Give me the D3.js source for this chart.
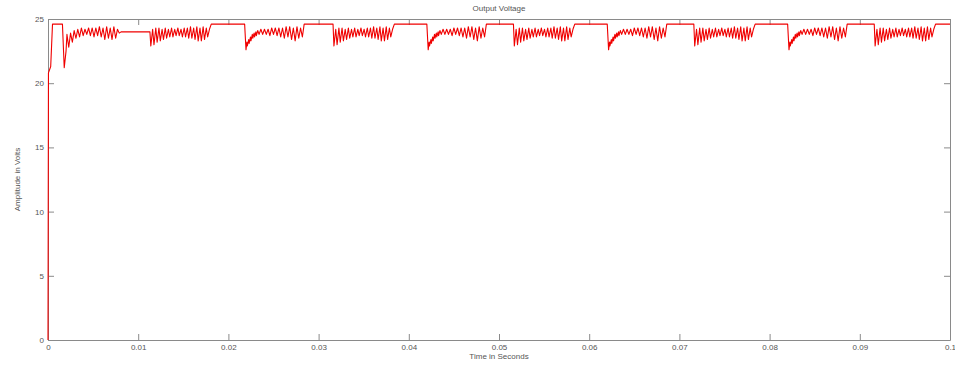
<!DOCTYPE html>
<html>
<head>
<meta charset="utf-8">
<script src="https://cdn.jsdelivr.net/npm/d3@7"></script>
<style>
  body { margin: 0; background: #fff; }
  svg text { font-family: "Liberation Sans", Arial, sans-serif; }
</style>
</head>
<body>
<div id="chart"></div>
<script>
// ---------- data ----------
// start-up transient, [time s, volts]
let startup = [
  [0, 0], [0.00005, 20.8], [0.0003, 21.3], [0.0005, 24.6], [0.0016, 24.6],
  [0.0018, 21.2], [0.0020, 22.5], [0.0021, 23.8], [0.0023, 22.8], [0.0025, 23.9],
  [0.0027, 23.2], [0.0029, 24.1], [0.0031, 23.5], [0.0033, 24.2], [0.0035, 23.6],
  [0.0037, 24.3], [0.0039, 23.7], [0.0041, 24.2], [0.0043, 23.8], [0.0045, 24.3],
  [0.0047, 23.7], [0.0049, 24.3], [0.0051, 23.6], [0.0053, 24.3], [0.0055, 23.7],
  [0.0057, 24.4], [0.0059, 23.6], [0.0061, 24.3], [0.0063, 23.4], [0.0065, 24.4],
  [0.0067, 23.5], [0.0069, 24.3], [0.0071, 23.4], [0.0073, 24.4], [0.0075, 23.5],
  [0.0077, 24.2], [0.0079, 23.9], [0.0081, 24.0]
]

// ripple burst that opens with a dip and recovers, [ms after onset, volts]
let burstA = [
  [0, 24.6], [0.15, 22.6], [0.25, 23.2], [0.3, 22.9], [0.45, 23.4], [0.5, 23.1],
  [0.65, 23.6], [0.7, 23.3], [0.85, 23.8], [0.9, 23.5], [1.05, 23.9], [1.1, 23.6],
  [1.25, 24.0], [1.3, 23.7], [1.45, 24.1], [1.6, 23.8], [1.8, 24.2], [2.0, 23.8],
  [2.2, 24.2], [2.4, 23.8], [2.6, 24.2], [2.8, 23.7], [3.0, 24.3], [3.2, 23.8],
  [3.4, 24.3], [3.6, 23.7], [3.8, 24.3], [4.0, 23.6], [4.2, 24.3], [4.4, 23.5],
  [4.6, 24.4], [4.8, 23.6], [5.0, 24.4], [5.2, 23.4], [5.4, 24.3], [5.6, 23.3],
  [5.8, 24.4], [6.0, 23.5], [6.2, 24.3], [6.4, 23.6], [6.6, 24.6]
]

// ripple burst without the recovery curve, [ms after onset, volts]
let burstB = [
  [0, 24.6], [0.1, 22.9], [0.3, 24.2], [0.45, 23.0], [0.65, 24.3], [0.8, 23.2],
  [1.0, 24.3], [1.15, 23.3], [1.35, 24.2], [1.5, 23.4], [1.7, 24.3], [1.85, 23.5],
  [2.05, 24.2], [2.2, 23.6], [2.4, 24.3], [2.55, 23.6], [2.75, 24.2], [2.9, 23.7],
  [3.1, 24.3], [3.25, 23.7], [3.45, 24.2], [3.6, 23.6], [3.8, 24.3], [3.95, 23.6],
  [4.15, 24.3], [4.3, 23.5], [4.5, 24.4], [4.65, 23.5], [4.85, 24.3], [5.0, 23.4],
  [5.2, 24.4], [5.35, 23.3], [5.55, 24.3], [5.7, 23.3], [5.9, 24.4], [6.05, 23.4],
  [6.25, 24.3], [6.4, 23.6], [6.6, 24.2], [6.8, 24.6]
]

// burst onsets (s), their type, and the flat level just before each one
let onsets = [0.0113, 0.0218, 0.0316, 0.0420, 0.0516, 0.0620, 0.0716, 0.0820, 0.0916]
let kinds = ["B", "A", "B", "A", "B", "A", "B", "A", "B"]
let levels = [24.0, 24.6, 24.6, 24.6, 24.6, 24.6, 24.6, 24.6, 24.6]
let endLevel = 24.6

let xTicks = [0, 0.01, 0.02, 0.03, 0.04, 0.05, 0.06, 0.07, 0.08, 0.09, 0.1]
let yTicks = [0, 5, 10, 15, 20, 25]

// ---------- build the trace ----------
let trace = startup.slice()
onsets.forEach(function(t0, i) {
  let shape = kinds[i] == "A" ? burstA : burstB
  trace.push([t0, levels[i]])
  shape.slice(1).forEach(function(p) { trace.push([t0 + p[0] / 1000, p[1]]) })
})
trace.push([0.1, endLevel])

// ---------- chart ----------
let width = 955, height = 365
let plotLeft = 48, plotRight = 950, plotTop = 19, plotBottom = 340

let svg = d3.select("#chart").append("svg")
  .attr("width", width)
  .attr("height", height)

let xScale = d3.scaleLinear().domain([0, 0.1]).range([plotLeft, plotRight])
let yScale = d3.scaleLinear().domain([0, 25]).range([plotBottom, plotTop])

// box axes, ticks pointing inward like matlab
let fmtX = function(d) { return d === 0 ? "0" : d3.format(".2~f")(d) }
let x_bot = svg.append("g").attr("transform", `translate(0,${plotBottom})`)
  .call(d3.axisBottom(xScale).tickValues(xTicks).tickFormat(fmtX).tickSizeInner(-6).tickSizeOuter(0).tickPadding(3))
let x_top = svg.append("g").attr("transform", `translate(0,${plotTop})`)
  .call(d3.axisTop(xScale).tickValues(xTicks).tickFormat("").tickSizeInner(-6).tickSizeOuter(0))
let y_left = svg.append("g").attr("transform", `translate(${plotLeft},0)`)
  .call(d3.axisLeft(yScale).tickValues(yTicks).tickSizeInner(-6).tickSizeOuter(0).tickPadding(4))
let y_right = svg.append("g").attr("transform", `translate(${plotRight},0)`)
  .call(d3.axisRight(yScale).tickValues(yTicks).tickFormat("").tickSizeInner(-6).tickSizeOuter(0))

svg.selectAll(".domain, .tick line").attr("stroke", "#8a8a8a")
svg.selectAll(".tick text").attr("fill", "#555").style("font-size", "8px")
x_bot.selectAll(".tick text").attr("dy", "0.9em")

// the signal, drawn over the frame so the start-up edge shows on the left axis
let line = d3.line()
  .x(function(d) { return xScale(d[0]) })
  .y(function(d) { return yScale(d[1]) })

svg.append("path")
  .datum(trace)
  .attr("d", line)
  .attr("fill", "none")
  .attr("stroke", "#f00000")
  .attr("stroke-width", 1.1)
  .attr("stroke-linejoin", "round")

// titles
svg.append("text").attr("x", (plotLeft + plotRight) / 2).attr("y", 11)
  .attr("text-anchor", "middle").attr("fill", "#555").style("font-size", "8px")
  .text("Output Voltage")
svg.append("text").attr("x", (plotLeft + plotRight) / 2).attr("y", 359)
  .attr("text-anchor", "middle").attr("fill", "#555").style("font-size", "8px")
  .text("Time in Seconds")
svg.append("text")
  .attr("transform", `translate(20,${(plotTop + plotBottom) / 2}) rotate(-90)`)
  .attr("text-anchor", "middle").attr("fill", "#555").style("font-size", "8px")
  .text("Amplitude in Volts")
</script>
</body>
</html>
